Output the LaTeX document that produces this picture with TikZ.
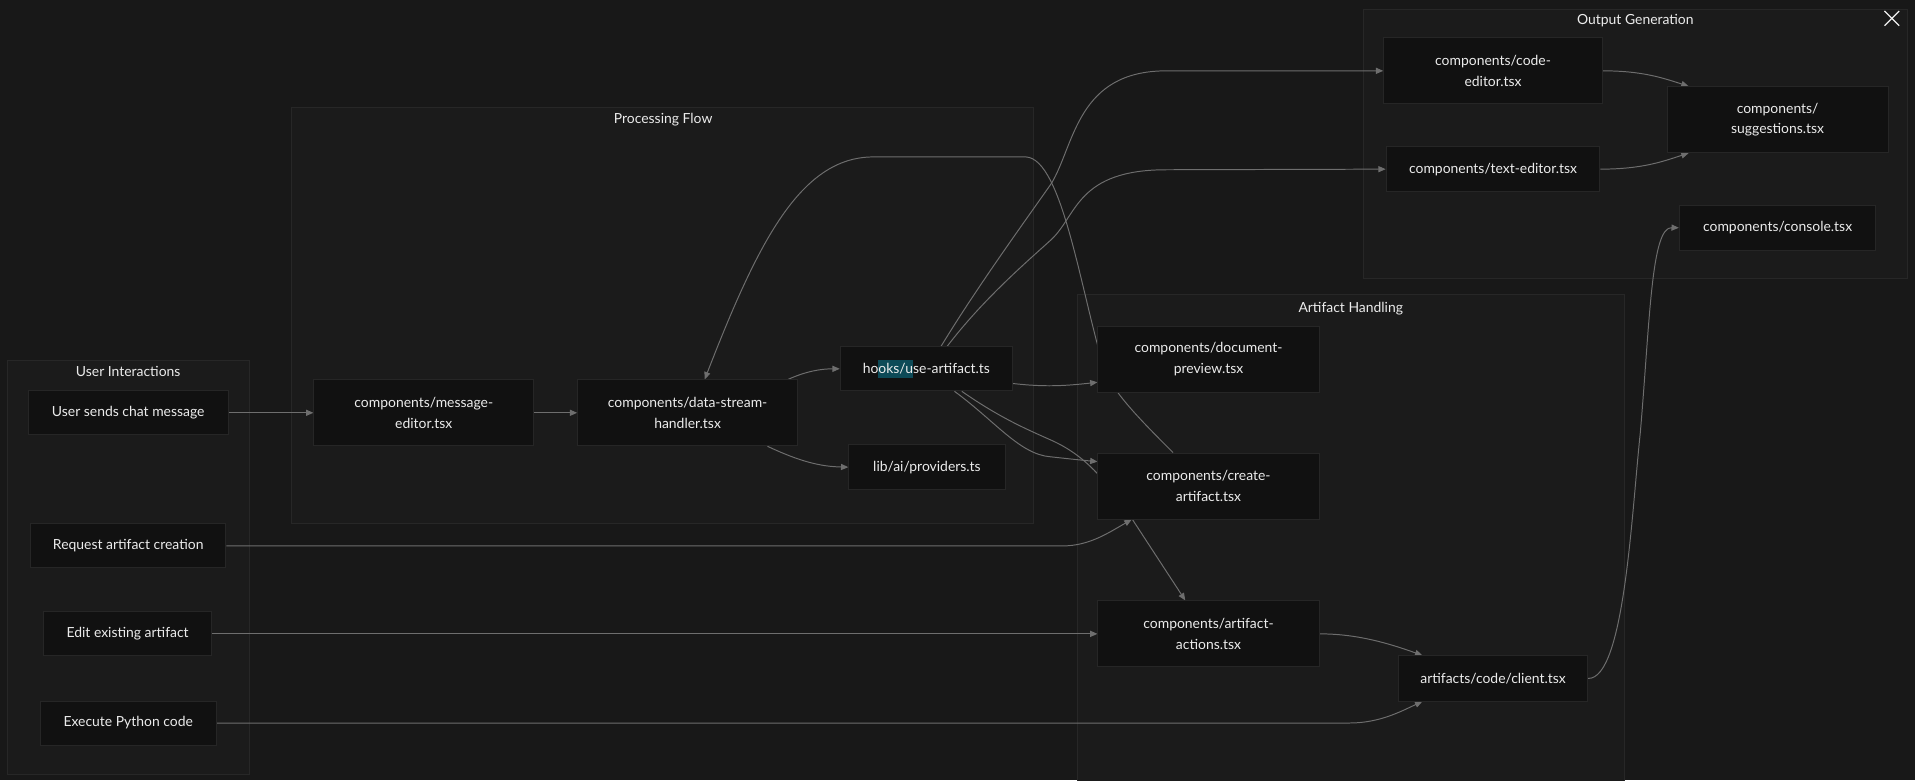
\documentclass[tikz,border=0pt]{standalone}
\usepackage{fontspec}
\setmainfont{Lato}
\usetikzlibrary{arrows.meta}
\definecolor{canvas}{HTML}{181818}
\definecolor{groupfill}{HTML}{1B1B1B}
\definecolor{groupline}{HTML}{272727}
\definecolor{nodefill}{HTML}{111111}
\definecolor{nodeline}{HTML}{262626}
\definecolor{nodetext}{HTML}{ECECEC}
\definecolor{edgegray}{HTML}{6E6E6E}
\definecolor{selteal}{HTML}{0D4A57}
\newcommand{\filefont}{\fontsize{11.4}{17}\selectfont}
\newcommand{\selmark}[1]{{\setlength{\fboxsep}{0pt}\colorbox{selteal}{\rule[-3.5pt]{0pt}{14.5pt}#1}}}
\pgfdeclarelayer{canvas}
\pgfdeclarelayer{groups}
\pgfdeclarelayer{edges}
\pgfsetlayers{canvas,groups,edges,main}
\tikzset{
  filebox/.style={rectangle, draw=nodeline, fill=nodefill, line width=0.8pt, text=nodetext,
                  align=center, font=\filefont, inner sep=0pt, minimum width=#1, minimum height=36pt},
  filepair/.style={filebox=#1, minimum height=54pt},
  grouparea/.style={draw=groupline, fill=groupfill, line width=0.8pt},
  grouptitle/.style={text=nodetext, font=\filefont, inner sep=0pt},
  flow/.style={-{Triangle[length=6pt,width=5pt]}, line width=0.8pt, draw=edgegray},
}

\begin{document}
\begin{tikzpicture}[x=1pt,y=-1pt]
  \begin{pgfonlayer}{canvas}
    \fill[canvas] (0,0) rectangle (1568,639);
  \end{pgfonlayer}
  \useasboundingbox (0,0) rectangle (1568,639);

  % groups
  \begin{pgfonlayer}{groups}
    \draw[grouparea] (6,295) rectangle (204,634);
    \draw[grouparea] (239,88) rectangle (846,429);
    \draw[grouparea] (882,241) rectangle (1330,648);
    \draw[grouparea] (1116,8) rectangle (1562,228);
  \end{pgfonlayer}
  \node[grouptitle] (usertitle) at (105,304) {User Interactions};
  \node[grouptitle] (proctitle) at (543,98) {Processing Flow};
  \node[grouptitle] (handtitle) at (1106,253) {Artifact Handling};
  \node[grouptitle] (outtitle) at (1339,17) {Output Generation};

  % user interactions
  \node[filebox=164pt] (chatmsg) at (105,338) {User sends chat message};
  \node[filebox=160pt] (artifactreq) at (105,447) {Request artifact creation};
  \node[filebox=137pt] (artifactedit) at (104.5,519) {Edit existing artifact};
  \node[filebox=144pt] (pythonrun) at (105,592) {Execute Python code};

  % processing flow
  \node[filepair=180pt] (msgeditor) at (347,338) {components/message-\\editor.tsx};
  \node[filepair=180pt] (streamhandler) at (563,338) {components/data-stream-\\handler.tsx};
  \node[filebox=141pt] (useartifact) at (758.5,302) {ho\selmark{oks/u}se-artifact.ts};
  \node[filebox=128pt, minimum height=37pt] (providers) at (759,382.5) {lib/ai/providers.ts};

  % artifact handling
  \node[filepair=181pt] (docpreview) at (989.5,294) {components/document-\\preview.tsx};
  \node[filepair=181pt] (createartifact) at (989.5,398) {components/create-\\artifact.tsx};
  \node[filepair=181pt] (artifactactions) at (989.5,519) {components/artifact-\\actions.tsx};
  \node[filebox=155pt, minimum height=37pt] (codeclient) at (1222.5,555.5) {artifacts/code/client.tsx};

  % output generation
  \node[filepair=179pt] (codeeditor) at (1222.5,58) {components/code-\\editor.tsx};
  \node[filebox=175pt, minimum height=37pt] (texteditor) at (1222.5,138.5) {components/text-editor.tsx};
  \node[filepair=181pt] (suggestions) at (1455.5,98) {components/\\suggestions.tsx};
  \node[filebox=161pt, minimum height=37pt] (devconsole) at (1455.5,186.5) {components/console.tsx};

  \draw[line width=1pt, draw=nodetext!80] (1543,9) -- (1555,21) (1543,21) -- (1555,9);

  % connectors
  \begin{pgfonlayer}{edges}
    \draw[flow] (chatmsg.east) -- (msgeditor.west);
    \draw[flow] (msgeditor.east) -- (streamhandler.west);
    \draw[flow] ([xshift=-8pt]streamhandler.north east) .. controls (660,304) and (672,302) .. (useartifact.west);
    \draw[flow] ([xshift=-25pt]streamhandler.south east) .. controls (655,378) and (672,382) .. (providers.west);
    \draw[flow] ([yshift=-12pt]useartifact.east) .. controls (855,317) and (872,316) .. ([yshift=-19pt]docpreview.west);
    \draw[flow] ([xshift=23pt]useartifact.south) .. controls (815,345) and (835,372) .. (860,374)
      .. controls (878,376) and (888,377) .. ([yshift=20pt]createartifact.west);
    \draw[flow] ([xshift=29pt]useartifact.south) .. controls (820,343) and (842,352) .. (862,361)
      .. controls (888,373) and (905,392) .. (927,425) -- ([xshift=-19pt]artifactactions.north);
    \draw[flow] ([xshift=-29pt]createartifact.north) .. controls (935,345) and (915,325) .. (905,305)
      .. controls (885,240) and (870,130) .. (840,128.5) -- (715,128.5)
      .. controls (655,128.5) and (620,200) .. ([xshift=14pt]streamhandler.north);
    \draw[flow] ([xshift=12pt]useartifact.north) .. controls (800,235) and (840,180) .. (861,150)
      .. controls (880,118) and (882,58) .. (955,58) -- (codeeditor.west);
    \draw[flow] ([xshift=17pt]useartifact.north) .. controls (805,245) and (840,215) .. (861,196)
      .. controls (882,176) and (882,139) .. (955,139) -- (texteditor.west);
    \draw[flow] (codeeditor.east) .. controls (1345,58) and (1362,64) .. ([xshift=18pt]suggestions.north west);
    \draw[flow] (texteditor.east) .. controls (1345,138.5) and (1362,132) .. ([xshift=18pt]suggestions.south west);
    \draw[flow] (codeclient.east) .. controls (1330,556) and (1336,420) .. (1343,355)
      .. controls (1351,262) and (1352,186) .. (devconsole.west);
    \draw[flow] (artifactactions.east) .. controls (1110,519) and (1135,526) .. ([xshift=20pt]codeclient.north west);
    \draw[flow] (artifactreq.east) -- (870,447) .. controls (892,447) and (908,436) .. ([xshift=28pt]createartifact.south west);
    \draw[flow] (artifactedit.east) -- (artifactactions.west);
    \draw[flow] (pythonrun.east) -- (1105,592) .. controls (1130,592) and (1148,582) .. ([xshift=20pt]codeclient.south west);
  \end{pgfonlayer}
\end{tikzpicture}
\end{document}
